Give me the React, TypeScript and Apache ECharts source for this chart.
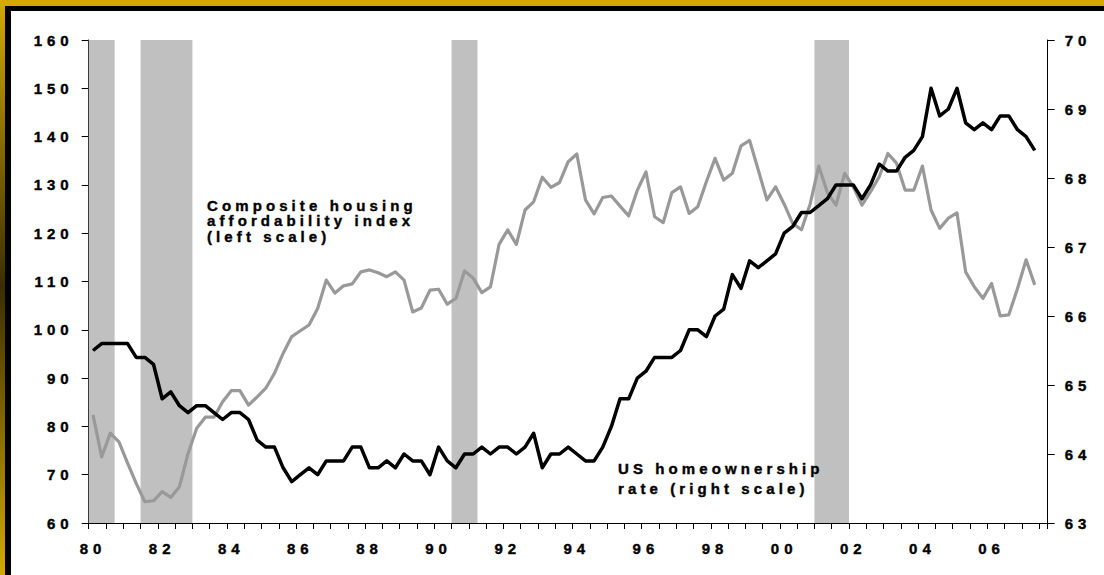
import React, { useEffect, useRef } from 'react';
import * as echarts from 'echarts';

// ---- data ----
const startYear = 1980;
const quarterCount = 111; // axis span in quarters, from 1980Q1
const xTickLabels = ['80', '82', '84', '86', '88', '90', '92', '94', '96', '98', '00', '02', '04', '06'];

// Composite housing affordability index (left scale), quarterly from 1980Q1
const affordability = [
  82.4, 73.7, 78.6, 76.8, 72.4, 68.2, 64.4, 64.6, 66.5, 65.3,
  67.5, 74.4, 79.6, 81.9, 81.9, 85.1, 87.4, 87.4, 84.4, 86.1,
  87.9, 91.0, 95.1, 98.6, 99.8, 101.0, 104.4, 110.3, 107.6, 109.1,
  109.5, 112.0, 112.4, 111.8, 111.0, 112.0, 110.3, 103.7, 104.5, 108.2,
  108.4, 105.3, 106.5, 112.2, 110.7, 107.7, 108.9, 117.7, 120.7, 117.7,
  124.8, 126.5, 131.6, 129.5, 130.5, 134.8, 136.4, 126.9, 124.0, 127.4,
  127.7, 125.6, 123.6, 128.9, 132.7, 123.4, 122.2, 128.4, 129.6, 124.1,
  125.5, 130.7, 135.5, 131.0, 132.4, 138.1, 139.2, 133.1, 126.9, 129.6,
  126.0, 122.0, 120.7, 126.0, 133.9, 128.4, 125.8, 132.4, 129.6, 125.8,
  128.6, 131.7, 136.5, 134.5, 128.9, 128.9, 133.9, 124.8, 121.0, 123.1,
  124.2, 112.0, 108.9, 106.5, 109.6, 102.9, 103.1, 108.5, 114.5, 109.3,
];

// US homeownership rate (right scale), quarterly from 1980Q1
const homeownership = [
  65.5, 65.6, 65.6, 65.6, 65.6, 65.4, 65.4, 65.3, 64.8, 64.9,
  64.7, 64.6, 64.7, 64.7, 64.6, 64.5, 64.6, 64.6, 64.5, 64.2,
  64.1, 64.1, 63.8, 63.6, 63.7, 63.8, 63.7, 63.9, 63.9, 63.9,
  64.1, 64.1, 63.8, 63.8, 63.9, 63.8, 64.0, 63.9, 63.9, 63.7,
  64.1, 63.9, 63.8, 64.0, 64.0, 64.1, 64.0, 64.1, 64.1, 64.0,
  64.1, 64.3, 63.8, 64.0, 64.0, 64.1, 64.0, 63.9, 63.9, 64.1,
  64.4, 64.8, 64.8, 65.1, 65.2, 65.4, 65.4, 65.4, 65.5, 65.8,
  65.8, 65.7, 66.0, 66.1, 66.6, 66.4, 66.8, 66.7, 66.8, 66.9,
  67.2, 67.3, 67.5, 67.5, 67.6, 67.7, 67.9, 67.9, 67.9, 67.7,
  67.9, 68.2, 68.1, 68.1, 68.3, 68.4, 68.6, 69.3, 68.9, 69.0,
  69.3, 68.8, 68.7, 68.8, 68.7, 68.9, 68.9, 68.7, 68.6, 68.4,
];

// Recession periods (years, decimal)
const recessions = [
  [1980.0, 1980.75],
  [1981.5, 1983.0],
  [1990.5, 1991.25],
  [2001.0, 2002.0],
];

const leftScale = { min: 60, max: 160, interval: 10 };
const rightScale = { min: 63, max: 70, interval: 1 };

const affordLabel = 'Composite housing\naffordability index\n(left scale)';
const homeLabel = 'US homeownership\nrate (right scale)';

const FONT = 'Liberation Sans, Arial, sans-serif';
const GOLD = '#D4AA00';

export default function App() {
  const ref = useRef<HTMLDivElement>(null);

  useEffect(() => {
    if (!ref.current) return;
    const chart = echarts.init(ref.current, null, { renderer: 'svg' });

    const quarterMid = (i: number) => startYear + (i + 0.5) / 4;
    const categories = Array.from({ length: quarterCount }, (_, i) =>
      `${startYear + Math.floor(i / 4)}Q${(i % 4) + 1}`
    );
    const labelStyle = {
      color: '#000000',
      fontFamily: FONT,
      fontWeight: 'bold' as const,
      fontSize: 15,
      textBorderColor: '#000000',
      textBorderWidth: 0.4,
    };

    chart.setOption({
      animation: false,
      backgroundColor: '#ffffff',
      grid: { left: 88.7, right: 56.3, top: 40, bottom: 52 },
      xAxis: [
        {
          type: 'value',
          min: startYear,
          max: startYear + quarterCount / 4,
          interval: 0.5,
          axisLine: { show: true, onZero: false, lineStyle: { color: '#000', width: 1 } },
          axisTick: { show: true, length: 6, lineStyle: { color: '#000', width: 1 } },
          axisLabel: { show: false },
          splitLine: { show: false },
        },
        {
          type: 'category',
          position: 'bottom',
          data: categories,
          boundaryGap: true,
          axisLine: { show: false, onZero: false },
          axisTick: { show: false },
          splitLine: { show: false },
          axisLabel: {
            ...labelStyle,
            margin: 18,
            interval: (index: number) => index % 8 === 0,
            formatter: (value: string) => {
              const y = parseInt(value.slice(0, 4), 10);
              return xTickLabels[(y - startYear) / 2] ?? '';
            },
          },
        },
      ],
      yAxis: [
        {
          type: 'value',
          position: 'left',
          min: leftScale.min,
          max: leftScale.max,
          interval: leftScale.interval,
          axisLine: { show: true, lineStyle: { color: '#000', width: 1 } },
          axisTick: { show: true, length: 7, lineStyle: { color: '#000', width: 1 } },
          axisLabel: { ...labelStyle, margin: 15 },
          splitLine: { show: false },
        },
        {
          type: 'value',
          position: 'right',
          min: rightScale.min,
          max: rightScale.max,
          interval: rightScale.interval,
          axisLine: { show: true, lineStyle: { color: '#000', width: 1 } },
          axisTick: { show: true, length: 7, lineStyle: { color: '#000', width: 1 } },
          axisLabel: { ...labelStyle, margin: 17 },
          splitLine: { show: false },
        },
      ],
      series: [
        {
          name: 'Composite housing affordability index',
          type: 'line',
          xAxisIndex: 0,
          yAxisIndex: 0,
          z: 2,
          showSymbol: false,
          symbol: 'none',
          data: affordability.map((v, i) => [quarterMid(i), v]),
          lineStyle: { color: '#999999', width: 3.2, join: 'round' },
          markArea: {
            silent: true,
            itemStyle: { color: '#C0C0C0' },
            data: recessions.map(([a, b]) => [{ xAxis: a }, { xAxis: b }]),
          },
        },
        {
          name: 'US homeownership rate',
          type: 'line',
          xAxisIndex: 0,
          yAxisIndex: 1,
          z: 3,
          showSymbol: false,
          symbol: 'none',
          data: homeownership.map((v, i) => [quarterMid(i), v]),
          lineStyle: { color: '#000000', width: 3.5, join: 'round' },
        },
      ],
      graphic: [
        // frame: top gold band + black line, left gradient band + black line
        { type: 'rect', shape: { x: 0, y: 0, width: 1104, height: 6 }, style: { fill: GOLD }, z: 10 },
        {
          type: 'rect',
          shape: { x: 0, y: 0, width: 5, height: 575 },
          style: {
            fill: new echarts.graphic.LinearGradient(0, 0, 0, 1, [
              { offset: 0, color: GOLD },
              { offset: 0.5, color: '#3a2e00' },
              { offset: 1, color: GOLD },
            ]),
          },
          z: 10,
        },
        { type: 'rect', shape: { x: 5, y: 6, width: 1099, height: 5 }, style: { fill: '#000' }, z: 10 },
        { type: 'rect', shape: { x: 5, y: 6, width: 6, height: 569 }, style: { fill: '#000' }, z: 10 },
        {
          type: 'text',
          x: 207,
          y: 197.5,
          z: 10,
          style: {
            text: affordLabel,
            fill: '#010101',
            stroke: '#010101',
            lineWidth: 0.4,
            font: `bold 15px ${FONT}`,
            lineHeight: 15.5,
            align: 'left',
            verticalAlign: 'top',
          },
        },
        {
          type: 'text',
          x: 618,
          y: 458.5,
          z: 10,
          style: {
            text: homeLabel,
            fill: '#010101',
            stroke: '#010101',
            lineWidth: 0.4,
            font: `bold 15px ${FONT}`,
            lineHeight: 20.3,
            align: 'left',
            verticalAlign: 'top',
          },
        },
      ],
    });

    return () => chart.dispose();
  }, []);

  return (
    <div style={{ position: 'fixed', left: 0, top: 0, width: 1104, height: 575, background: '#fff', overflow: 'hidden' }}>
      <style>{`.chartbox svg text { letter-spacing: 5px; } .chartbox svg text[fill="#010101"] { letter-spacing: 4.1px; }`}</style>
      <div ref={ref} className="chartbox" style={{ width: 1104, height: 575 }} />
    </div>
  );
}
